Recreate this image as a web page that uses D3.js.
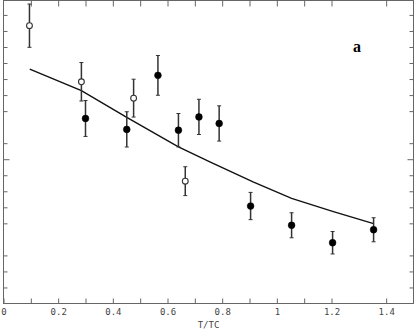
<!DOCTYPE html>
<html>
<head>
<meta charset="utf-8">
<script src="https://cdn.jsdelivr.net/npm/d3@7"></script>
<style>
  html, body { margin: 0; padding: 0; background: #fff; }
  svg { display: block; }
  .tick text { font-family: "DejaVu Sans Mono", monospace; font-size: 9px; fill: #444; }
</style>
</head>
<body>
<svg id="chart" width="415" height="330"></svg>
<script>
// measured points (T/Tc, value, error half-width)
var filledT   = [0.300, 0.451, 0.565, 0.640, 0.715, 0.789, 0.904, 1.054, 1.204, 1.354];
var filledVal = [1.154, 1.086, 1.423, 1.081, 1.164, 1.123, 0.608, 0.488, 0.379, 0.460];
var filledErr = [0.112, 0.110, 0.124, 0.104, 0.110, 0.110, 0.085, 0.078, 0.070, 0.075];

var openT   = [0.095, 0.285, 0.476, 0.665];
var openVal = [1.733, 1.383, 1.281, 0.763];
var openErr = [0.135, 0.120, 0.118, 0.090];

// theory curve
var curveT   = [0.096, 0.285, 0.451, 0.640, 0.755, 0.913, 1.054, 1.204, 1.354];
var curveVal = [1.462, 1.328, 1.161, 0.977, 0.883, 0.758, 0.656, 0.575, 0.498];

// axes
var xTickVals  = [0, 0.1, 0.2, 0.3, 0.4, 0.5, 0.6, 0.7, 0.8, 0.9, 1.0, 1.1, 1.2, 1.4];
var xLabelVals = [0, 0.2, 0.4, 0.6, 0.8, 1.0, 1.2, 1.4];
var xLabels    = ["0", "0.2", "0.4", "0.6", "0.8", "1", "1.2", "1.4"];
var yTickVals  = [0.1, 0.2, 0.3, 0.5, 0.6, 0.7, 0.8, 1.0, 1.2, 1.3, 1.4, 1.5, 1.6, 1.7, 1.8];
var yMajorVals = [0.9];

var svg = d3.select("#chart");

var x = d3.scaleLinear().domain([0, 1.5]).range([3.5, 413.5]);
var y = d3.scaleLinear().domain([0, 1.89]).range([303.5, 0.5]);

var axisColor = "#666";

function styleAxis(g) {
    g.select(".domain").remove();
    g.selectAll(".tick line").attr("stroke", axisColor);
}

// frame
svg.append("rect")
    .attr("x", x(0)).attr("y", y(1.89))
    .attr("width", x(1.5) - x(0)).attr("height", y(0) - y(1.89))
    .attr("fill", "none").attr("stroke", axisColor).attr("stroke-width", 1);

// bottom ticks (pointing up)
svg.append("g")
    .attr("transform", "translate(0," + y(0) + ")")
    .call(d3.axisBottom(x).tickValues(xTickVals).tickSize(-5).tickFormat(""))
    .call(styleAxis);

// top ticks (pointing down)
svg.append("g")
    .attr("transform", "translate(0," + y(1.89) + ")")
    .call(d3.axisTop(x).tickValues(xTickVals.filter(function (d) { return d > 0; })).tickSize(-6).tickFormat(""))
    .call(styleAxis);

// bottom labels
svg.append("g")
    .attr("transform", "translate(0," + y(0) + ")")
    .call(d3.axisBottom(x).tickValues(xLabelVals).tickSize(0).tickPadding(5)
        .tickFormat(function (d, i) { return xLabels[i]; }))
    .call(function (g) { g.select(".domain").remove(); });

// left / right ticks
svg.append("g")
    .attr("transform", "translate(" + x(0) + ",0)")
    .call(d3.axisLeft(y).tickValues(yTickVals).tickSize(-4).tickFormat(""))
    .call(styleAxis);
svg.append("g")
    .attr("transform", "translate(" + x(0) + ",0)")
    .call(d3.axisLeft(y).tickValues(yMajorVals).tickSize(-6).tickFormat(""))
    .call(styleAxis);
svg.append("g")
    .attr("transform", "translate(" + x(1.5) + ",0)")
    .call(d3.axisRight(y).tickValues(yTickVals).tickSize(-4).tickFormat(""))
    .call(styleAxis);
svg.append("g")
    .attr("transform", "translate(" + x(1.5) + ",0)")
    .call(d3.axisRight(y).tickValues(yMajorVals).tickSize(-6).tickFormat(""))
    .call(styleAxis);

// axis title
svg.append("text")
    .attr("x", (x(0) + x(1.5)) / 2)
    .attr("y", 328)
    .attr("text-anchor", "middle")
    .attr("font-family", "DejaVu Sans Mono, monospace")
    .attr("font-size", 9)
    .attr("fill", "#444")
    .text("T/TC");

// panel letter
svg.append("text")
    .attr("x", 357)
    .attr("y", 52)
    .attr("text-anchor", "middle")
    .attr("font-family", "Liberation Serif, serif")
    .attr("font-weight", "bold")
    .attr("font-size", 16)
    .text("a");

// theory line
var curve = curveT.map(function (t, i) { return [t, curveVal[i]]; });
svg.append("path")
    .datum(curve)
    .attr("fill", "none")
    .attr("stroke", "#111")
    .attr("stroke-width", 1.4)
    .attr("d", d3.line().x(function (d) { return x(d[0]); }).y(function (d) { return y(d[1]); }));

// error bars + markers
function drawSeries(ts, vals, errs, filled) {
    var data = ts.map(function (t, i) { return { t: t, v: vals[i], e: errs[i] }; });
    var g = svg.append("g");
    var bars = g.selectAll("g.bar").data(data).enter().append("g")
        .attr("stroke", "#333").attr("stroke-width", 1.5);
    bars.append("line")
        .attr("x1", function (d) { return x(d.t); })
        .attr("x2", function (d) { return x(d.t); })
        .attr("y1", function (d) { return y(d.v + d.e); })
        .attr("y2", function (d) { return y(d.v - d.e); });
    bars.append("line")
        .attr("x1", function (d) { return x(d.t) - 2; })
        .attr("x2", function (d) { return x(d.t) + 2; })
        .attr("y1", function (d) { return y(d.v + d.e); })
        .attr("y2", function (d) { return y(d.v + d.e); })
        .attr("stroke-width", 1);
    bars.append("line")
        .attr("x1", function (d) { return x(d.t) - 2; })
        .attr("x2", function (d) { return x(d.t) + 2; })
        .attr("y1", function (d) { return y(d.v - d.e); })
        .attr("y2", function (d) { return y(d.v - d.e); })
        .attr("stroke-width", 1);
    g.selectAll("circle").data(data).enter().append("circle")
        .attr("cx", function (d) { return x(d.t); })
        .attr("cy", function (d) { return y(d.v); })
        .attr("r", filled ? 3.4 : 2.9)
        .attr("fill", filled ? "#000" : "#fff")
        .attr("stroke", filled ? "#000" : "#333")
        .attr("stroke-width", filled ? 0.5 : 1.1);
}

drawSeries(openT, openVal, openErr, false);
drawSeries(filledT, filledVal, filledErr, true);
</script>
</body>
</html>
